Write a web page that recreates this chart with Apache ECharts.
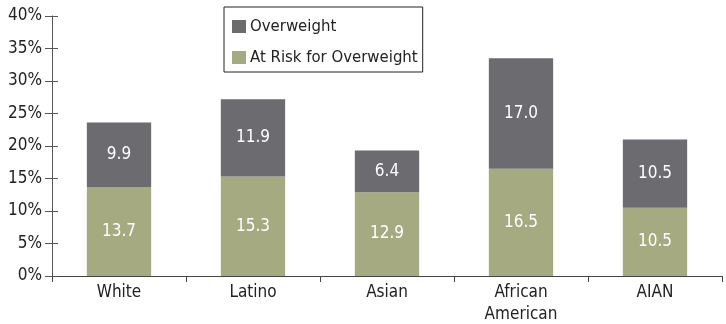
<!DOCTYPE html>
<html>
<head>
<meta charset="utf-8">
<script src="https://cdn.jsdelivr.net/npm/echarts@6/dist/echarts.min.js"></script>
<style>
  html, body { margin: 0; padding: 0; background: #fff; }
  #chart { width: 726px; height: 324px; }
</style>
</head>
<body>
<div id="chart"></div>
<script>
// Share of children by group, percent
const categories = ['White', 'Latino', 'Asian', 'African\nAmerican', 'AIAN'];
const atRisk = [13.7, 15.3, 12.9, 16.5, 10.5];
const overweight = [9.9, 11.9, 6.4, 17.0, 10.5];
const yTicks = { min: 0, max: 40, interval: 5 };

const FONT = '"Liberation Sans Narrow", "DejaVu Sans Condensed", "Roboto", sans-serif';
const GRAY = '#6b6b70';
const GREEN = '#a5aa80';

const chart = echarts.init(document.getElementById('chart'), null, { renderer: 'canvas' });

const valueLabel = {
  show: true,
  position: 'inside',
  color: '#fff',
  fontFamily: FONT,
  fontSize: 17,
  formatter: p => p.value.toFixed(1)
};

chart.setOption({
  animation: false,
  backgroundColor: '#fff',
  textStyle: { fontFamily: FONT },
  grid: { left: 52, right: 4, top: 16, bottom: 48, outerBoundsMode: 'none', containLabel: false },
  legend: {
    data: ['Overweight', 'At Risk for Overweight'],
    orient: 'vertical',
    left: 224,
    top: 7,
    itemWidth: 14,
    itemHeight: 13,
    itemGap: 14,
    padding: [11, 5, 6, 8],
    borderColor: '#222',
    borderWidth: 1,
    icon: 'rect',
    textStyle: { fontFamily: FONT, fontSize: 16.6, color: '#222', padding: [0, 0, 0, -1] }
  },
  xAxis: {
    type: 'category',
    data: categories,
    boundaryGap: true,
    axisLine: { lineStyle: { color: '#444', width: 1 } },
    axisTick: { show: true, length: 6, lineStyle: { color: '#444' } },
    axisLabel: { fontFamily: FONT, fontSize: 17, color: '#222', lineHeight: 22, margin: 6 }
  },
  yAxis: [
    {
      type: 'value',
      min: yTicks.min, max: yTicks.max, interval: yTicks.interval,
      position: 'left',
      axisLine: { show: true, lineStyle: { color: '#555', width: 1 } },
      axisTick: { show: true, length: 7, lineStyle: { color: '#555' } },
      axisLabel: { fontFamily: FONT, fontSize: 17, color: '#222', margin: 10, formatter: v => v + '%' },
      splitLine: { show: false }
    },
    {
      type: 'value',
      min: yTicks.min, max: yTicks.max, interval: yTicks.interval,
      position: 'left',
      axisLine: { show: false },
      axisTick: { show: true, inside: true, length: 6, lineStyle: { color: '#555' } },
      axisLabel: { show: false },
      splitLine: { show: false }
    }
  ],
  series: [
    {
      name: 'At Risk for Overweight',
      type: 'bar',
      stack: 'total',
      data: atRisk,
      barWidth: '48%',
      itemStyle: { color: GREEN },
      label: valueLabel
    },
    {
      name: 'Overweight',
      type: 'bar',
      stack: 'total',
      data: overweight,
      barWidth: '48%',
      itemStyle: { color: GRAY },
      label: valueLabel
    }
  ]
});
</script>
</body>
</html>
